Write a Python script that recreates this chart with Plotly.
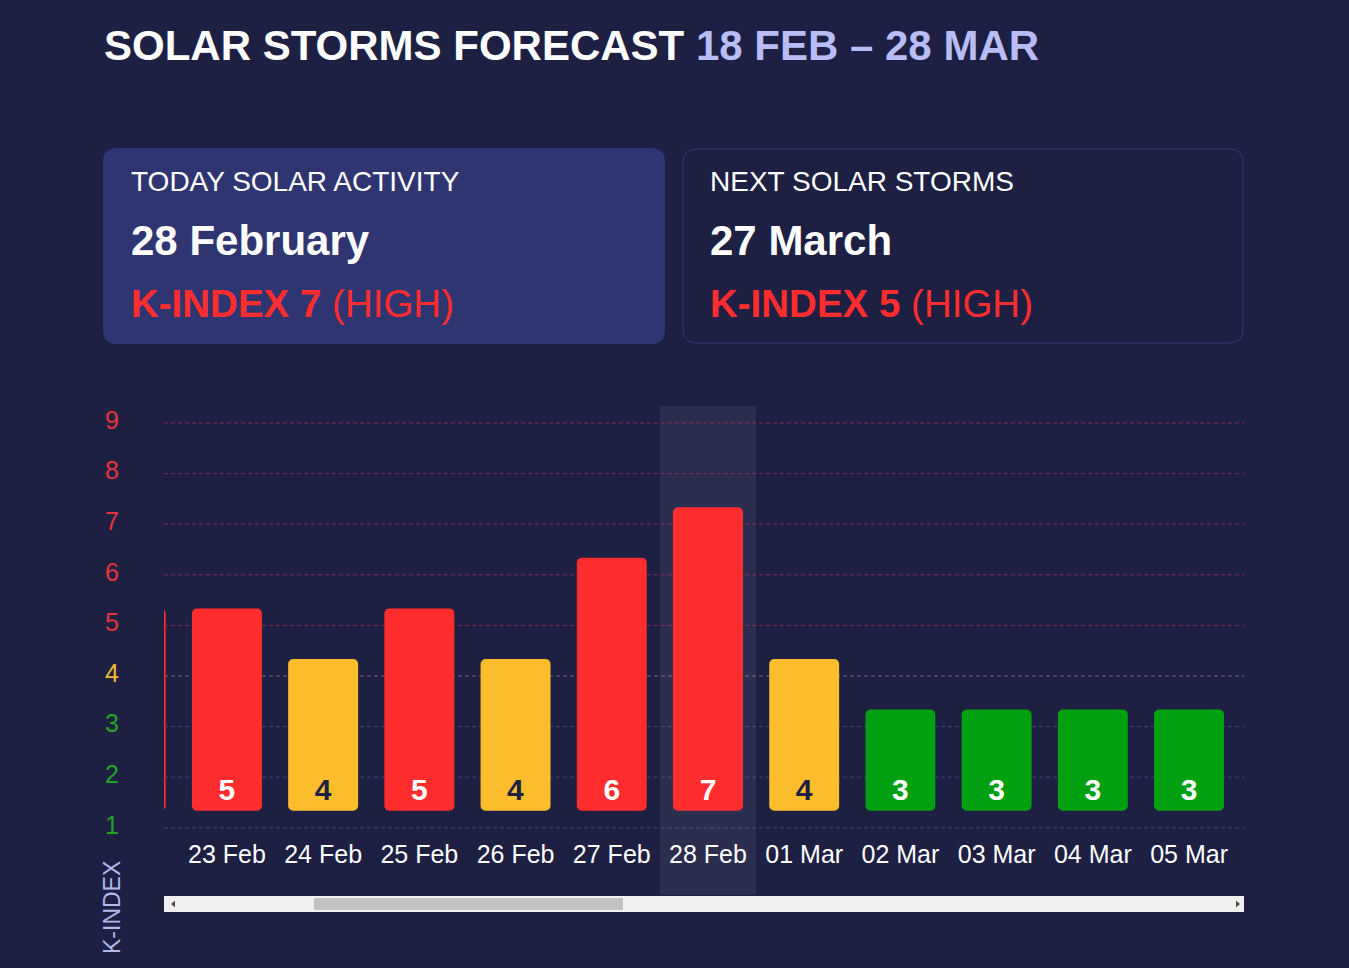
import plotly.graph_objects as go

# ---------------- data ----------------
dates = ["22 Feb", "23 Feb", "24 Feb", "25 Feb", "26 Feb", "27 Feb", "28 Feb",
         "01 Mar", "02 Mar", "03 Mar", "04 Mar", "05 Mar"]
kindex = [5, 5, 4, 5, 4, 6, 7, 4, 3, 3, 3, 3]
levels = [1, 2, 3, 4, 5, 6, 7, 8, 9]
today_label = "28 Feb"
today_date = "28 February"
today_k = 7
next_date = "27 March"
next_k = 5

W, H = 1349, 968
BG = "#1d1f43"
RED = "#ff2d2d"
YEL = "#fbbd2b"
GRN = "#00a010"
FONT = "Liberation Sans"


def level_color(k):
    if k >= 5:
        return RED
    if k == 4:
        return YEL
    return GRN


def tick_color(k):
    if k >= 5:
        return "#e8333b"
    if k == 4:
        return "#f5b731"
    return "#1fa51f"


def grid_color(k):
    if k >= 5:
        return "rgba(215,55,85,0.55)"
    if k == 4:
        return "rgba(175,175,175,0.55)"
    return "rgba(140,140,200,0.35)"


def px(x):
    return x / W


def py(y):
    return 1 - y / H


def rounded_rect(x0, y0, x1, y1, r):
    pts = [
        f"M {px(x0 + r)},{py(y0)}",
        f"L {px(x1 - r)},{py(y0)}",
        f"Q {px(x1)},{py(y0)} {px(x1)},{py(y0 + r)}",
        f"L {px(x1)},{py(y1 - r)}",
        f"Q {px(x1)},{py(y1)} {px(x1 - r)},{py(y1)}",
        f"L {px(x0 + r)},{py(y1)}",
        f"Q {px(x0)},{py(y1)} {px(x0)},{py(y1 - r)}",
        f"L {px(x0)},{py(y0 + r)}",
        f"Q {px(x0)},{py(y0)} {px(x0 + r)},{py(y0)}",
        "Z",
    ]
    return " ".join(pts)


bar_len = [k - 1 for k in kindex]  # bars drawn from level 1 upward
bar_colors = [level_color(k) for k in kindex]
text_colors = ["#1d1f43" if k == 4 else "white" for k in kindex]

fig = go.Figure()
fig.add_trace(go.Bar(
    x=dates, y=bar_len, base=1,
    text=[str(k) for k in kindex],
    textposition="inside", insidetextanchor="start", textangle=0,
    textfont=dict(family=FONT, size=30, color=text_colors, weight="bold"),
    marker=dict(color=bar_colors, line=dict(width=0), cornerradius=5),
    hoverinfo="skip", showlegend=False,
))

shapes = []
idx_today = dates.index(today_label)
shapes.append(dict(type="rect", xref="x", yref="paper",
                   x0=idx_today - 0.5, x1=idx_today + 0.5,
                   y0=py(895), y1=py(406),
                   fillcolor="rgba(255,255,255,0.07)", line=dict(width=0),
                   layer="below"))
GRID_OFF = 0.336
for lv in levels:
    shapes.append(dict(type="line", xref="x domain", yref="y",
                       x0=0, x1=1, y0=lv - GRID_OFF, y1=lv - GRID_OFF,
                       line=dict(color=grid_color(lv), width=1, dash="4px,3px"),
                       layer="below"))

# cards
shapes.append(dict(type="path", xref="paper", yref="paper",
                   path=rounded_rect(103, 148, 665, 344, 14),
                   fillcolor="#2f3571", line=dict(width=0)))
shapes.append(dict(type="path", xref="paper", yref="paper",
                   path=rounded_rect(683, 149, 1243, 343, 14),
                   fillcolor=BG, line=dict(color="#353a70", width=1)))

# scrollbar
shapes.append(dict(type="rect", xref="paper", yref="paper",
                   x0=px(164), x1=px(1244), y0=py(912), y1=py(896),
                   fillcolor="#f0f0f0", line=dict(width=0)))
shapes.append(dict(type="rect", xref="paper", yref="paper",
                   x0=px(314), x1=px(623), y0=py(910), y1=py(898),
                   fillcolor="#c1c1c1", line=dict(width=0)))
shapes.append(dict(type="path", xref="paper", yref="paper",
                   path=f"M {px(171)},{py(904)} L {px(175)},{py(900.5)} L {px(175)},{py(907.5)} Z",
                   fillcolor="#505050", line=dict(width=0)))
shapes.append(dict(type="path", xref="paper", yref="paper",
                   path=f"M {px(1240)},{py(904)} L {px(1236)},{py(900.5)} L {px(1236)},{py(907.5)} Z",
                   fillcolor="#505050", line=dict(width=0)))

annotations = []


def add_text(x, y, text, size, color="white", bold=False):
    annotations.append(dict(
        xref="paper", yref="paper", x=px(x), y=py(y),
        xanchor="left", yanchor="middle", showarrow=False,
        text=f"<b>{text}</b>" if bold else text,
        font=dict(family=FONT, size=size, color=color),
    ))


add_text(102, 45, "<b>SOLAR STORMS FORECAST</b> <span style='color:#b9bdf5'><b>18 FEB – 28 MAR</b></span>", 42)

add_text(129, 182, "TODAY SOLAR ACTIVITY", 28)
add_text(129, 240, today_date, 42, bold=True)
add_text(129, 303, f"<b>K-INDEX {today_k}</b> (HIGH)", 38.5, color="#ff2d2d")

add_text(708, 182, "NEXT SOLAR STORMS", 28)
add_text(708, 240, next_date, 42, bold=True)
add_text(708, 303, f"<b>K-INDEX {next_k}</b> (HIGH)", 38.5, color="#ff2d2d")

annotations.append(dict(
    xref="paper", yref="paper", x=px(112), y=py(908),
    xanchor="center", yanchor="middle", showarrow=False, textangle=-90,
    text="K-INDEX", font=dict(family=FONT, size=23, color="#b4b8e6"),
))

fig.update_layout(
    width=W, height=H,
    margin=dict(l=0, r=0, t=0, b=0, autoexpand=False),
    paper_bgcolor=BG, plot_bgcolor=BG,
    bargap=0.273,
    font=dict(family=FONT, color="white"),
    shapes=shapes, annotations=annotations,
    xaxis=dict(
        domain=[px(164), px(1244)],
        type="category", range=[0.346, 11.571],
        showgrid=False, zeroline=False, showline=False, ticks="",
        tickfont=dict(family=FONT, size=25, color="white"),
        ticklabelstandoff=6, fixedrange=True, automargin=False,
    ),
    yaxis=dict(
        domain=[py(831), py(406)],
        range=[0.6, 9.0],
        showgrid=False, zeroline=False, showline=False, ticks="",
        tickvals=[lv - GRID_OFF for lv in levels],
        ticktext=[f"<span style='color:{tick_color(lv)}'>{lv}</span>" for lv in levels],
        tickfont=dict(family=FONT, size=25),
        ticklabelstandoff=44, ticklabelshift=-3, fixedrange=True, automargin=False,
    ),
)

fig.write_html("out.html", config={"displayModeBar": False},
               post_script="document.documentElement.style.background='" + BG + "';document.body.style.background='" + BG + "';document.body.style.margin='0';document.body.style.overflow='hidden';")
